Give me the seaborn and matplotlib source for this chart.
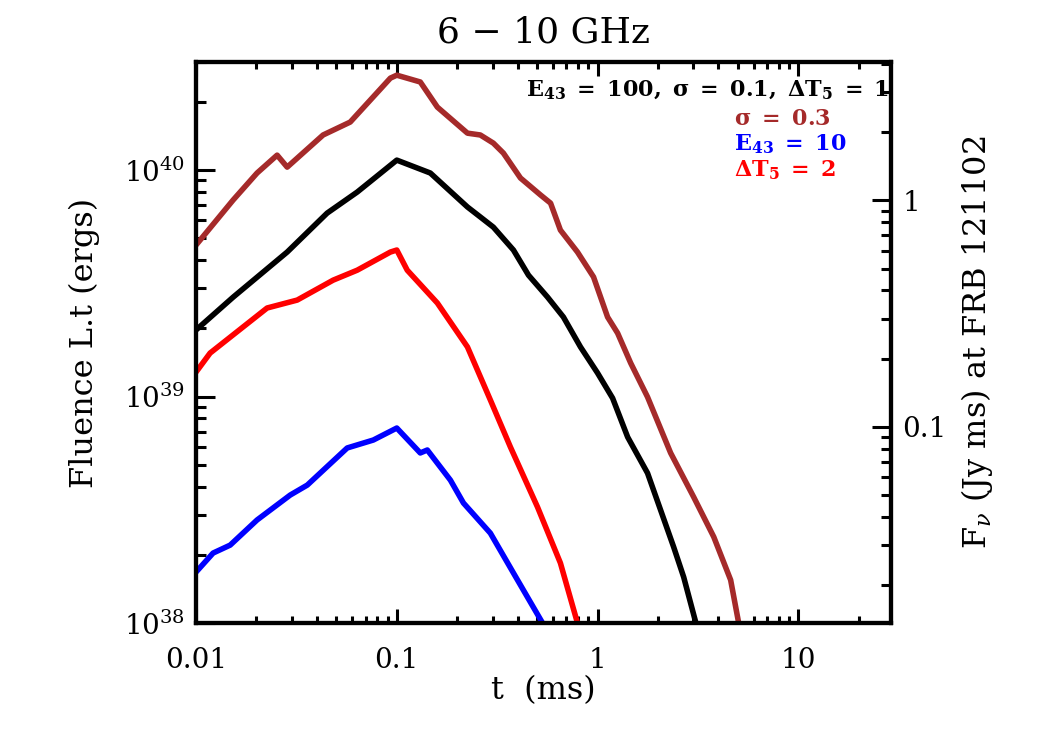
import numpy as np
import pandas as pd
import seaborn as sns
import matplotlib.pyplot as plt
from matplotlib.ticker import FixedLocator, FixedFormatter, LogLocator, NullFormatter

# curves: log10 t (ms) and log10 fluence (erg)
lt_black = [-2.0, -1.815, -1.546, -1.347, -1.197, -1.0, -0.833, -0.648, -0.584, -0.519, -0.419, -0.344,
            -0.249, -0.170, -0.085, 0.0, 0.075, 0.150, 0.249, 0.314, 0.379, 0.429, 0.490]
lL_black = [39.294, 39.439, 39.638, 39.810, 39.903, 40.044, 39.987, 39.837, 39.793, 39.748, 39.647, 39.536,
            39.439, 39.351, 39.219, 39.104, 38.993, 38.821, 38.662, 38.499, 38.336, 38.203, 38.0]

lt_brown = [-2.0, -1.815, -1.696, -1.596, -1.546, -1.367, -1.232, -1.032, -1.0, -0.883, -0.798, -0.648,
            -0.584, -0.519, -0.469, -0.384, -0.284, -0.234, -0.185, -0.100, -0.020, 0.050, 0.100,
            0.165, 0.249, 0.364, 0.479, 0.579, 0.663, 0.703]
lL_brown = [39.669, 39.868, 39.987, 40.066, 40.013, 40.155, 40.212, 40.406, 40.419, 40.389, 40.278, 40.163,
            40.155, 40.119, 40.075, 39.965, 39.890, 39.854, 39.735, 39.638, 39.528, 39.351, 39.280,
            39.148, 38.998, 38.751, 38.556, 38.380, 38.190, 38.0]

lt_red = [-2.0, -1.930, -1.646, -1.496, -1.317, -1.197, -1.032, -1.0, -0.948, -0.798, -0.648, -0.534,
          -0.434, -0.299, -0.185, -0.100]
lL_red = [39.108, 39.192, 39.391, 39.426, 39.514, 39.558, 39.638, 39.647, 39.558, 39.413, 39.219, 38.985,
          38.777, 38.512, 38.265, 38.0]

lt_blue = [-2.0, -1.915, -1.830, -1.696, -1.531, -1.446, -1.247, -1.117, -1.0, -0.883, -0.848, -0.733,
           -0.668, -0.534, -0.419, -0.274]
lL_blue = [38.225, 38.309, 38.344, 38.455, 38.565, 38.609, 38.773, 38.808, 38.861, 38.751, 38.764, 38.631,
           38.530, 38.397, 38.221, 38.0]

labels = ['sigma03', 'base', 'dT2', 'E10']
colors = ['#a52a2a', '#000000', '#ff0000', '#0000ff']

x_ticks = [0.01, 0.1, 1, 10]
x_tick_labels = ['0.01', '0.1', '1', '10']
f_ticks = [0.1, 1]
f_tick_labels = ['0.1', '1']
L_per_F = 7.35e39  # erg per (Jy ms)

frames = []
for name, lt, lL in zip(labels, [lt_brown, lt_black, lt_red, lt_blue],
                        [lL_brown, lL_black, lL_red, lL_blue]):
    frames.append(pd.DataFrame({'t': 10 ** np.array(lt), 'L': 10 ** np.array(lL), 'run': name}))
data = pd.concat(frames, ignore_index=True)

sns.set_style("ticks")
plt.rcParams['font.family'] = ['DejaVu Serif']
plt.rcParams['mathtext.fontset'] = 'dejavuserif'
for key in ['text.color', 'axes.labelcolor', 'xtick.color', 'ytick.color', 'axes.edgecolor']:
    plt.rcParams[key] = 'black'

fig = plt.figure(figsize=(10.5, 7.5), dpi=100)
ax = fig.add_axes([0.1867, 0.1693, 0.662, 0.748])

sns.lineplot(data=data, x='t', y='L', hue='run', palette=dict(zip(labels, colors)),
             estimator=None, sort=False, linewidth=4.0, legend=False, ax=ax)

ax.set_xscale('log')
ax.set_yscale('log')
ax.set_xlim(0.01, 29)
ax.set_ylim(1e38, 3.0e40)

ax.xaxis.set_major_locator(FixedLocator(x_ticks))
ax.xaxis.set_major_formatter(FixedFormatter(x_tick_labels))
ax.xaxis.set_minor_locator(LogLocator(base=10, subs=np.arange(2, 10)))
ax.xaxis.set_minor_formatter(NullFormatter())
ax.yaxis.set_minor_locator(LogLocator(base=10, subs=np.arange(2, 10)))
ax.yaxis.set_minor_formatter(NullFormatter())

ax.tick_params(axis='both', which='both', direction='in', labelsize=20, width=2.2)
ax.tick_params(axis='x', which='both', top=True, pad=17)
ax.tick_params(axis='x', which='major', length=10)
ax.tick_params(axis='x', which='minor', length=5)
ax.tick_params(axis='y', which='both', right=False, pad=8)
ax.tick_params(axis='y', which='major', length=14)
ax.tick_params(axis='y', which='minor', length=7)
for s in ax.spines.values():
    s.set_linewidth(3)

ax.set_xlabel('t  (ms)', fontsize=23, labelpad=1)
ax.set_ylabel('Fluence L.t (ergs)', fontsize=23, labelpad=17)
ax.set_title('6 \u2212 10 GHz', fontsize=26, pad=14)

ax2 = ax.twinx()
ax2.set_yscale('log')
ax2.set_ylim(1e38 / L_per_F, 3.0e40 / L_per_F)
ax2.yaxis.set_major_locator(FixedLocator(f_ticks))
ax2.yaxis.set_major_formatter(FixedFormatter(f_tick_labels))
ax2.yaxis.set_minor_locator(LogLocator(base=10, subs=np.arange(2, 10)))
ax2.yaxis.set_minor_formatter(NullFormatter())
ax2.tick_params(axis='y', which='both', direction='in', labelsize=20, width=2.2, pad=8)
ax2.tick_params(which='major', length=14)
ax2.tick_params(which='minor', length=7)
for s in ax2.spines.values():
    s.set_linewidth(3)
ax2.set_ylabel(r'F$_\nu$ (Jy ms) at FRB 121102', fontsize=23, labelpad=9)

notes = [(r'$\mathbf{E_{43}\ =\ 100,\ \sigma\ =\ 0.1,\ \Delta T_{5}\ =\ 1}$', '#000000'),
         (r'$\mathbf{\sigma\ =\ 0.3}$', '#a52a2a'),
         (r'$\mathbf{E_{43}\ =\ 10}$', '#0000ff'),
         (r'$\mathbf{\Delta T_{5}\ =\ 2}$', '#ff0000')]
ypos = [0.950, 0.898, 0.854, 0.807]
xpos = [0.474, 0.774, 0.774, 0.774]
for (txt, c), yy, xx in zip(notes, ypos, xpos):
    ax.text(xx, yy, txt, transform=ax.transAxes, color=c, fontsize=16,
            ha='left', va='center')

fig.savefig('out.png', dpi=100)
